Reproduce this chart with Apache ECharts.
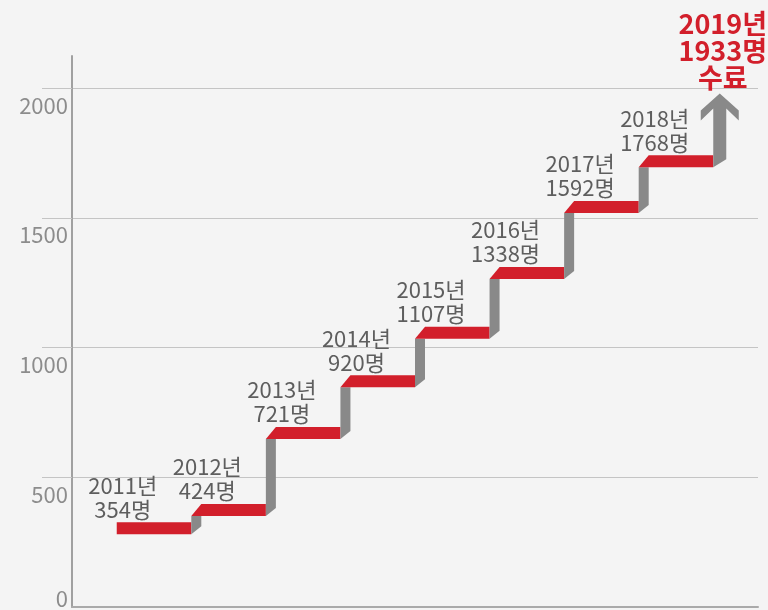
<!DOCTYPE html>
<html>
<head>
<meta charset="utf-8">
<script src="https://cdn.jsdelivr.net/npm/echarts@6/dist/echarts.min.js"></script>
<style>
html, body { margin: 0; padding: 0; background: #f4f4f4; }
#main { width: 768px; height: 610px; }
</style>
</head>
<body>
<div id="main"></div>
<script>
var years = ['2011', '2012', '2013', '2014', '2015', '2016', '2017', '2018'];
var counts = [354, 424, 721, 920, 1107, 1338, 1592, 1768];
var goalYear = '2019';
var goalCount = 1933;
var yTicks = [0, 500, 1000, 1500, 2000];

var chartDom = document.getElementById('main');
var myChart = echarts.init(chartDom);
var option;

var RED = '#d21f2b';
var GRAY = '#898989';
var FONT = '"Noto Sans CJK KR", "Noto Sans", sans-serif';

// [x index, value, previous value, year]
var stepData = counts.map(function (v, i) {
    return [i, v, i > 0 ? counts[i - 1] : null, years[i]];
});
stepData.push([counts.length, goalCount, counts[counts.length - 1], goalYear]);

function renderStep(params, api) {
    var item = stepData[params.dataIndex];
    var i = api.value(0);
    var left = api.coord([i, 0])[0];
    var right = api.coord([i + 1, 0])[0];
    var top = api.coord([i, api.value(1)])[1] + 7;
    var bottom = top + 12;
    var slant = 10;
    var children = [];
    var isGoal = params.dataIndex === stepData.length - 1;
    var prevBottom = item[2] === null ? null : api.coord([i, item[2]])[1] + 19;

    if (isGoal) {
        var w = 13;
        var cx = left + w / 2;
        var tip = api.coord([i, item[1]])[1] - 12;
        children.push({
            type: 'polygon',
            shape: { points: [
                [cx, tip], [cx + 19, tip + 17], [cx + 19, tip + 27], [cx + w / 2, tip + 15],
                [cx + w / 2, prevBottom - 8], [cx - w / 2, prevBottom],
                [cx - w / 2, tip + 15], [cx - 19, tip + 27], [cx - 19, tip + 17]
            ] },
            style: { fill: GRAY }
        });
        children.push({
            type: 'text',
            x: cx + 3,
            y: tip - 2,
            style: {
                text: item[3] + '년\n' + item[1] + '명\n수료',
                fill: RED,
                fontFamily: FONT,
                fontSize: 27,
                fontWeight: 'bold',
                lineHeight: 27,
                align: 'center',
                verticalAlign: 'bottom'
            }
        });
        return { type: 'group', children: children };
    }

    if (prevBottom !== null) {
        var rw = 10;
        children.push({
            type: 'polygon',
            shape: { points: [[left, prevBottom], [left + rw, prevBottom - 8], [left + rw, bottom], [left, bottom]] },
            style: { fill: GRAY }
        });
        children.push({
            type: 'polygon',
            shape: { points: [[left, bottom], [left + slant, top], [right, top], [right, bottom]] },
            style: { fill: RED }
        });
    } else {
        children.push({
            type: 'rect',
            shape: { x: left, y: top, width: right - left, height: 12 },
            style: { fill: RED }
        });
    }
    children.push({
        type: 'text',
        x: left + (prevBottom !== null ? slant : 0) + 6,
        y: top - 1,
        style: {
            text: item[3] + '년\n' + item[1] + '명',
            fill: '#5e5e5e',
            fontFamily: FONT,
            fontSize: 22,
            lineHeight: 24,
            align: 'center',
            verticalAlign: 'bottom'
        }
    });
    return { type: 'group', children: children };
}

option = {
    backgroundColor: '#f4f4f4',
    animation: false,
    grid: { left: 72, right: 10, top: 56, bottom: 2 },
    xAxis: {
        type: 'value',
        min: -0.6,
        max: 8.6,
        axisLine: { show: true, onZero: false, lineStyle: { color: '#aaaaaa', width: 2 } },
        axisTick: { show: false },
        axisLabel: { show: false },
        splitLine: { show: false }
    },
    yAxis: {
        type: 'value',
        min: 0,
        max: 2124,
        interval: 500,
        axisLine: { show: true, onZero: false, lineStyle: { color: '#a0a0a0', width: 2 } },
        axisTick: {
            show: true,
            length: 30,
            customValues: [500, 1000, 1500, 2000],
            lineStyle: { color: '#c4c4c4' }
        },
        axisLabel: {
            customValues: yTicks,
            margin: 4,
            formatter: function (v) {
                return v === 0 ? '{z|0}' : '{n|' + v + '}';
            },
            rich: {
                n: { color: '#8c8c8c', fontSize: 22, fontFamily: FONT, padding: [34, 0, 0, 0] },
                z: { color: '#8c8c8c', fontSize: 22, fontFamily: FONT, padding: [0, 0, 16, 0] }
            }
        },
        splitLine: { show: true, lineStyle: { color: '#c4c4c4' } }
    },
    series: [{
        type: 'custom',
        renderItem: renderStep,
        encode: { x: 0, y: 1 },
        clip: false,
        data: stepData.map(function (d) { return [d[0], d[1]]; })
    }]
};

option && myChart.setOption(option);
</script>
</body>
</html>
